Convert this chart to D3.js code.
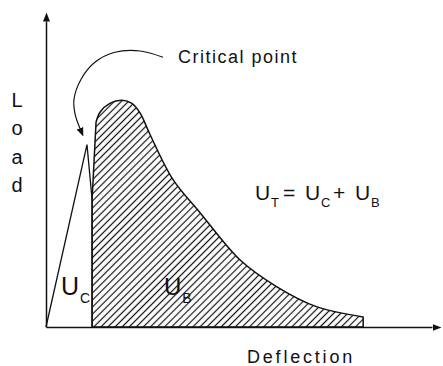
<!DOCTYPE html>
<html>
<head>
<meta charset="utf-8">
<script src="https://cdn.jsdelivr.net/npm/d3@7"></script>
<style>
  body { margin: 0; background: #fff; }
  text { font-family: "Liberation Sans", Arial, sans-serif; fill: #111; }
</style>
</head>
<body>
<svg id="chart"></svg>
<script>
let width = 443, height = 366;

// elastic part, up to the critical point (U_C)
let critDefl = [0, 1.04, 1.17, 1.17];
let critLoad = [0, 5.81, 4.06, 0];

// post-critical part (U_B), hatched
let postDefl = [1.27, 1.37, 1.62, 1.93, 2.18, 2.39, 2.64, 3.22, 3.91, 4.92, 5.86, 6.88, 8.05];
let postLoad = [6.52, 6.84, 7.12, 7.22, 7.12, 6.81, 6.13, 4.70, 3.64, 2.14, 1.28, 0.64, 0.32];

// curved pointer to the critical point
let noteDefl = [2.97, 2.39, 1.75, 1.24, 0.89, 0.71, 0.74, 0.86];
let noteLoad = [8.59, 8.79, 8.75, 8.43, 7.89, 7.25, 6.77, 6.33];

let yLabel = ["L", "o", "a", "d"];

let x = d3.scaleLinear().domain([0, 10]).range([46, 440]);
let y = d3.scaleLinear().domain([0, 10]).range([327, 13]);

let svg = d3.select("#chart")
    .attr("width", width)
    .attr("height", height);

let defs = svg.append("defs");

defs.append("pattern")
    .attr("id", "hatch")
    .attr("patternUnits", "userSpaceOnUse")
    .attr("width", 5)
    .attr("height", 5)
    .attr("patternTransform", "rotate(45)")
  .append("line")
    .attr("x1", 2.5).attr("y1", 0)
    .attr("x2", 2.5).attr("y2", 5)
    .attr("stroke", "#111")
    .attr("stroke-width", 1.2);

defs.append("marker")
    .attr("id", "arrow")
    .attr("viewBox", "0 -4 9 8")
    .attr("refX", 0).attr("refY", 0)
    .attr("markerUnits", "userSpaceOnUse")
    .attr("markerWidth", 9).attr("markerHeight", 8)
    .attr("orient", "auto")
  .append("path")
    .attr("d", "M0,-3.5L9,0L0,3.5Z")
    .attr("fill", "#111");

// axes (no ticks, arrows at the ends)
let xAxisScale = d3.scaleLinear().domain([0, 10]).range([x(0), x(10) - 8]);
let yAxisScale = d3.scaleLinear().domain([0, 10]).range([y(0), y(10) + 8]);

let gx = svg.append("g")
    .attr("transform", "translate(0," + y(0) + ")")
    .call(d3.axisBottom(xAxisScale).tickValues([]).tickSizeOuter(0));
gx.select(".domain").attr("stroke", "#111").attr("stroke-width", 1.5).attr("marker-end", "url(#arrow)");

let gy = svg.append("g")
    .attr("transform", "translate(" + x(0) + ",0)")
    .call(d3.axisLeft(yAxisScale).tickValues([]).tickSizeOuter(0));
gy.select(".domain").attr("stroke", "#111").attr("stroke-width", 1.5).attr("marker-end", "url(#arrow)");

// U_C triangle
let crit = critDefl.map((d, i) => [x(d), y(critLoad[i])]);
svg.append("path")
    .attr("d", d3.line()(crit))
    .attr("fill", "none")
    .attr("stroke", "#111")
    .attr("stroke-width", 1.3);

// U_B hatched region
let post = postDefl.map((d, i) => [x(d), y(postLoad[i])]);
let curveTop = d3.line().curve(d3.curveCatmullRom.alpha(0.5))(post);
let xStart = critDefl[critDefl.length - 1];
let xEnd = postDefl[postDefl.length - 1];
let areaPath = "M" + x(xStart) + "," + y(0) + "L" + x(xStart) + "," + y(critLoad[2]) +
        "L" + curveTop.slice(1) + "L" + x(xEnd) + "," + y(0) + "Z";
svg.append("path")
    .attr("d", areaPath)
    .attr("fill", "url(#hatch)")
    .attr("stroke", "#111")
    .attr("stroke-width", 1.5)
    .attr("stroke-linejoin", "round");

// pointer
let note = noteDefl.map((d, i) => [x(d), y(noteLoad[i])]);
svg.append("path")
    .attr("d", d3.line().curve(d3.curveCatmullRom)(note))
    .attr("fill", "none")
    .attr("stroke", "#111")
    .attr("stroke-width", 1.2)
    .attr("marker-end", "url(#arrow)");

svg.append("text")
    .attr("x", 178).attr("y", 63)
    .style("font-size", "18px")
    .style("letter-spacing", "1.5px")
    .text("Critical point");

// axis titles
svg.selectAll(".ylab")
  .data(yLabel)
  .enter().append("text")
    .attr("class", "ylab")
    .attr("x", 17)
    .attr("y", (d, i) => 107 + i * 28.4)
    .attr("text-anchor", "middle")
    .style("font-size", "20px")
    .text(d => d);

svg.append("text")
    .attr("x", 247).attr("y", 363)
    .style("font-size", "18px")
    .style("letter-spacing", "2.8px")
    .text("Deflection");

// energy labels
function energy(px, py, big, sub, main, subText) {
  svg.append("text").attr("x", px).attr("y", py).style("font-size", big + "px").text(main);
  svg.append("text").attr("x", px + big * 0.72 + 1).attr("y", py + big * 0.33)
     .style("font-size", sub + "px").text(subText);
}
energy(61, 295, 25, 14, "U", "C");
energy(164, 295, 24, 14, "U", "B");

energy(255, 200, 21, 13, "U", "T");
svg.append("text").attr("x", 283).attr("y", 200).style("font-size", "21px").text("=");
energy(305, 200, 21, 13, "U", "C");
svg.append("text").attr("x", 333).attr("y", 200).style("font-size", "21px").text("+");
energy(355, 200, 21, 13, "U", "B");
</script>
</body>
</html>
